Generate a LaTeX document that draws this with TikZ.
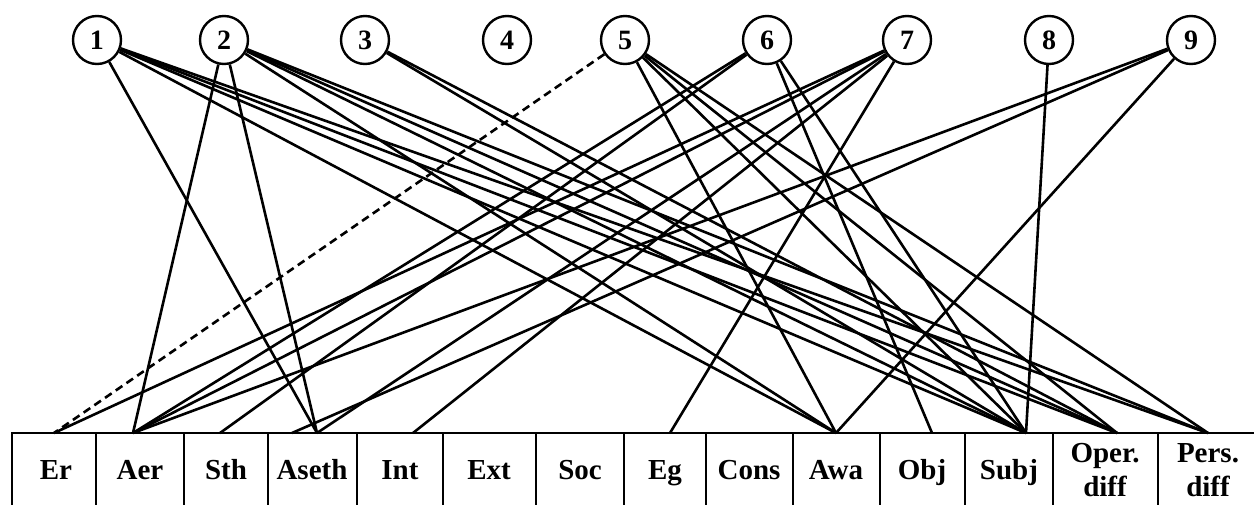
\documentclass[tikz,border=0pt]{standalone}
\usepackage{fontspec}
\setmainfont{Liberation Serif}
\begin{document}
\begin{tikzpicture}[x=0.5pt,y=-0.5pt,
  num/.style={circle,draw,line width=1.2pt,minimum size=24pt,inner sep=0pt,font=\fontsize{14}{16}\selectfont\bfseries},
  lab/.style={font=\fontsize{14.5}{17}\selectfont\bfseries,align=center},
  link/.style={line width=1.3pt},
  dlink/.style={line width=1.3pt,dash pattern=on 4pt off 2.5pt},
  grid/.style={line width=1.2pt}]
\useasboundingbox (0,0) rectangle (1254,504);
\clip (0,0) rectangle (1254,504);
% circles
\node[num] (n1) at (97,40) {1};
\node[num] (n2) at (224,40) {2};
\node[num] (n3) at (365,40) {3};
\node[num] (n4) at (507,40) {4};
\node[num] (n5) at (625,40) {5};
\node[num] (n6) at (767,40) {6};
\node[num] (n7) at (907,40) {7};
\node[num] (n8) at (1049,40) {8};
\node[num] (n9) at (1191,40) {9};
% table
\draw[grid] (12,433) rectangle (1262,508);
\foreach \x in {96,184,268,357,443,536,624,706,793,880,965,1053,1158}
  \draw[grid] (\x,433) -- (\x,508);
\node[lab,anchor=base] (lEr) at (56,479) {Er};
\node[lab,anchor=base] (lAer) at (140,479) {Aer};
\node[lab,anchor=base] (lSth) at (226,479) {Sth};
\node[lab,anchor=base] (lAseth) at (312,479) {Aseth};
\node[lab,anchor=base] (lInt) at (400,479) {Int};
\node[lab,anchor=base] (lExt) at (489,479) {Ext};
\node[lab,anchor=base] (lSoc) at (580,479) {Soc};
\node[lab,anchor=base] (lEg) at (665,479) {Eg};
\node[lab,anchor=base] (lCons) at (749,479) {Cons};
\node[lab,anchor=base] (lAwa) at (836,479) {Awa};
\node[lab,anchor=base] (lObj) at (922,479) {Obj};
\node[lab,anchor=base] (lSubj) at (1009,479) {Subj};
\node[lab] (lOper) at (1105,470) {Oper.\\diff};
\node[lab] (lPers) at (1208,470) {Pers.\\diff};
% anchor points on the table top
\coordinate (tEr) at (54,433);
\coordinate (tAer) at (133,433);
\coordinate (tSth) at (220,433);
\coordinate (tAsA) at (292,433);
\coordinate (tAsB) at (317,433);
\coordinate (tInt) at (413,433);
\coordinate (tEg) at (670,433);
\coordinate (tAwa) at (836,433);
\coordinate (tObj) at (932,433);
\coordinate (tSubj) at (1026,433);
\coordinate (tOper) at (1117,433);
\coordinate (tPers) at (1208,433);
% connectors
\foreach \t in {tAsB,tAwa,tSubj,tOper,tPers} \draw[link] (n1) -- (\t);
\foreach \t in {tAer,tAsB,tAwa,tSubj,tOper,tPers} \draw[link] (n2) -- (\t);
\foreach \t in {tSubj,tOper} \draw[link] (n3) -- (\t);
\draw[dlink] (n5) -- (tEr);
\foreach \t in {tAwa,tSubj,tOper,tPers} \draw[link] (n5) -- (\t);
\foreach \t in {tAer,tSth,tObj,tSubj} \draw[link] (n6) -- (\t);
\foreach \t in {tEr,tAer,tAsB,tInt,tEg} \draw[link] (n7) -- (\t);
\draw[link] (n8) -- (tSubj);
\foreach \t in {tAer,tAsA,tAwa} \draw[link] (n9) -- (\t);
\end{tikzpicture}
\end{document}
